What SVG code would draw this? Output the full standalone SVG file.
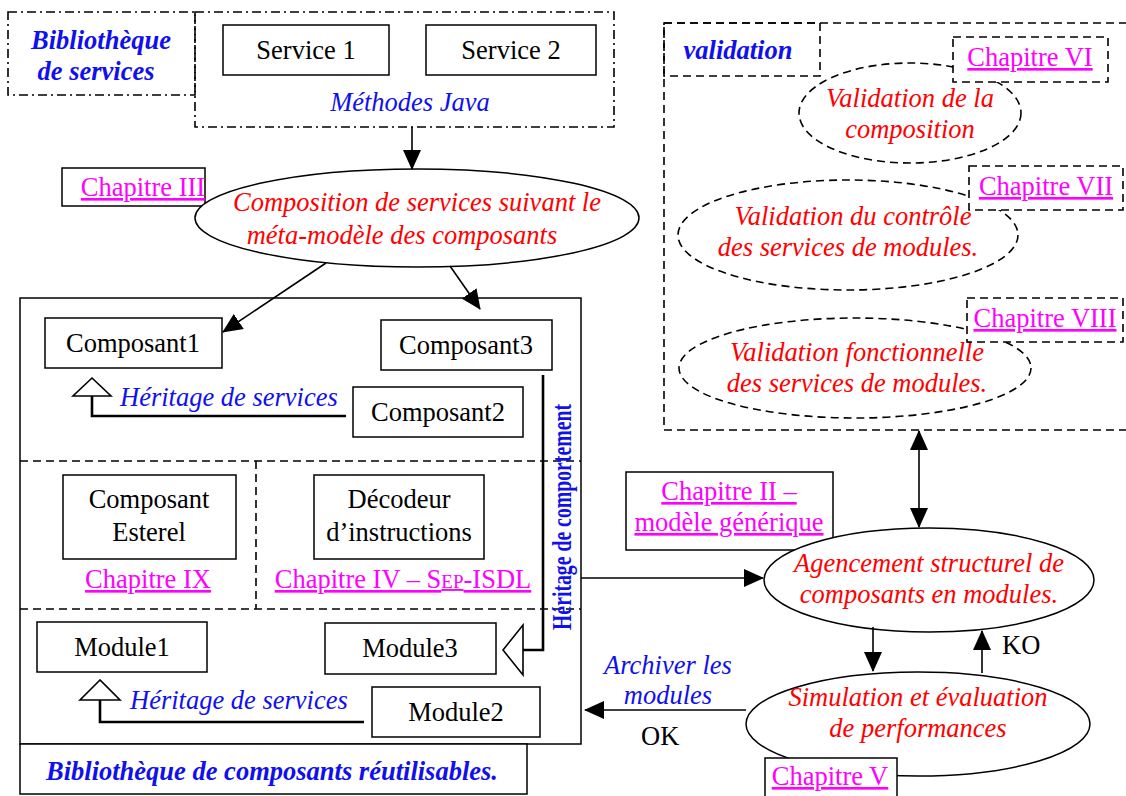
<svg xmlns="http://www.w3.org/2000/svg" width="1126" height="796" viewBox="0 0 1126 796">
<defs>
<style>
text{font-family:"Liberation Serif","Times New Roman",serif;font-size:26.5px;fill:#000}
.c{text-anchor:middle}
.it{font-style:italic}
.blue{fill:#1010ee}
.red{fill:#ff0000}
.bb{font-weight:bold;font-style:italic;fill:#1010ee}
.ch{fill:#ff00ff;text-decoration:underline}
.box{fill:#fff;stroke:#000;stroke-width:1.5}
.dd{fill:none;stroke:#000;stroke-width:1.6;stroke-dasharray:9 4 2 4}
.dash{fill:none;stroke:#000;stroke-width:1.6;stroke-dasharray:8 5}
.dashw{fill:#fff;stroke:#000;stroke-width:1.6;stroke-dasharray:8 5}
.ln{fill:none;stroke:#000;stroke-width:1.6}
.thick{fill:none;stroke:#000;stroke-width:2.6}
.tri{fill:#fff;stroke:#000;stroke-width:1.6}
</style>
<marker id="ah" viewBox="0 0 20 18" refX="19" refY="9" markerWidth="20" markerHeight="18" markerUnits="userSpaceOnUse" orient="auto-start-reverse"><path d="M0,0 L20,9 L0,18 z" fill="#000"/></marker>
</defs>

<g id="lib-services-label">
<rect class="dd" x="8" y="12" width="187" height="83"/>
<text class="bb c" x="101" y="49">Bibliothèque</text>
<text class="bb c" x="96" y="80">de services</text>
</g>
<g id="methodes-java">
<rect class="dd" x="195" y="12" width="419" height="115"/>
<text class="it blue c" x="410" y="111">Méthodes Java</text>
</g>
<g id="service1"><rect class="box" x="223" y="25" width="166" height="50"/><text class="c" x="306" y="59">Service 1</text></g>
<g id="service2"><rect class="box" x="426" y="25" width="170" height="50"/><text class="c" x="511" y="59">Service 2</text></g>

<g id="chap3"><rect class="box" x="62" y="168" width="143" height="38"/><text class="ch c" x="143" y="196">Chapitre III</text></g>
<g id="composition">
<ellipse class="box" cx="417" cy="218" rx="222" ry="49"/>
<text class="it red c" x="417" y="211">Composition de services suivant le</text>
<text class="it red c" x="402" y="244">méta-modèle des composants</text>
</g>

<g id="lib-composants">
<rect class="box" x="20" y="298" width="561" height="446"/>
<line class="dash" x1="20" y1="461" x2="581" y2="461"/>
<line class="dash" x1="20" y1="609" x2="581" y2="609"/>
<line class="dash" x1="256" y1="461" x2="256" y2="609"/>
</g>
<g id="lib-composants-label"><rect class="box" x="20" y="744" width="507" height="50"/><text class="bb c" x="272" y="780">Bibliothèque de composants réutilisables.</text></g>

<g id="composant1"><rect class="box" x="45" y="318" width="177" height="50"/><text class="c" x="133" y="352">Composant1</text></g>
<g id="composant3"><rect class="box" x="381" y="320" width="171" height="50"/><text class="c" x="466" y="354">Composant3</text></g>
<g id="composant2"><rect class="box" x="353" y="387" width="170" height="50"/><text class="c" x="438" y="421">Composant2</text></g>
<g id="esterel"><rect class="box" x="63" y="475" width="173" height="84"/><text class="c" x="149" y="508">Composant</text><text class="c" x="149" y="541">Esterel</text></g>
<g id="chap9"><text class="ch c" x="148" y="588">Chapitre IX</text></g>
<g id="decodeur"><rect class="box" x="314" y="475" width="170" height="84"/><text class="c" x="399" y="508">Décodeur</text><text class="c" x="399" y="541">d’instructions</text></g>
<g id="chap4"><text class="ch c" x="403" y="588">Chapitre IV – S<tspan style="font-size:19px">EP</tspan>-ISDL</text></g>
<g id="module1"><rect class="box" x="37" y="622" width="170" height="50"/><text class="c" x="122" y="656">Module1</text></g>
<g id="module3"><rect class="box" x="325" y="623" width="171" height="51"/><text class="c" x="410" y="657">Module3</text></g>
<g id="module2"><rect class="box" x="372" y="687" width="168" height="50"/><text class="c" x="456" y="721">Module2</text></g>

<g id="validation">
<rect class="dash" x="664" y="23" width="470" height="407"/>
<rect class="dash" x="664" y="23" width="156" height="53"/>
<text class="bb c" x="738" y="59">validation</text>
</g>
<g id="val-composition">
<ellipse class="dash" cx="910" cy="113" rx="111" ry="50"/>
<text class="it red c" x="910" y="107">Validation de la</text>
<text class="it red c" x="910" y="138">composition</text>
</g>
<g id="chap6"><rect class="dashw" x="953" y="37" width="155" height="45"/><text class="ch c" x="1030" y="66">Chapitre VI</text></g>
<g id="val-controle">
<ellipse class="dash" cx="848" cy="235" rx="170" ry="55"/>
<text class="it red c" x="853" y="225">Validation du contrôle</text>
<text class="it red c" x="848" y="256">des services de modules.</text>
</g>
<g id="chap7"><rect class="dashw" x="969" y="166" width="154" height="44"/><text class="ch c" x="1046" y="195">Chapitre VII</text></g>
<g id="val-fonc">
<ellipse class="dash" cx="855" cy="368" rx="176" ry="50"/>
<text class="it red c" x="857" y="361">Validation fonctionnelle</text>
<text class="it red c" x="857" y="392">des services de modules.</text>
</g>
<g id="chap8"><rect class="dashw" x="967" y="298" width="156" height="44"/><text class="ch c" x="1045" y="327">Chapitre VIII</text></g>

<g id="chap2"><rect class="box" x="626" y="472" width="207" height="78"/><text class="ch c" x="729" y="500">Chapitre II –</text><text class="ch c" x="729" y="531">modèle générique</text></g>
<g id="agencement">
<ellipse class="box" cx="929" cy="580" rx="165" ry="52"/>
<text class="it red c" x="929" y="572">Agencement structurel de</text>
<text class="it red c" x="929" y="603">composants en modules.</text>
</g>
<g id="simulation">
<ellipse class="box" cx="918" cy="724" rx="172" ry="52"/>
<text class="it red c" x="918" y="706">Simulation et évaluation</text>
<text class="it red c" x="918" y="737">de performances</text>
</g>
<g id="chap5"><rect class="box" x="765" y="758" width="132" height="46"/><text class="ch c" x="830" y="785">Chapitre V</text></g>

<g id="connectors">
<line class="ln" x1="412" y1="127" x2="412" y2="169" marker-end="url(#ah)"/>
<line class="ln" x1="326" y1="263" x2="223" y2="332" marker-end="url(#ah)"/>
<line class="ln" x1="450" y1="266" x2="480" y2="309" marker-end="url(#ah)"/>
<polyline class="thick" points="346,416 92,416 92,396"/>
<polygon class="tri" points="92,378 73,396 111,396"/>
<text class="it blue" x="120" y="406">Héritage de services</text>
<polyline class="thick" points="364,722 100,722 100,700"/>
<polygon class="tri" points="100,680 80,700 120,700"/>
<text class="it blue" x="130" y="709">Héritage de services</text>
<polyline class="thick" points="543,375 543,650 523,650"/>
<polygon class="tri" points="503,650 523,625 523,675"/>
<text transform="translate(571,517) rotate(-90)" class="c" style="font-weight:bold;font-size:27px;fill:#1010ee" textLength="226" lengthAdjust="spacingAndGlyphs">Héritage de comportement</text>
<line class="ln" x1="581" y1="578" x2="763" y2="578" marker-end="url(#ah)"/>
<line class="ln" x1="919" y1="431" x2="919" y2="527" marker-start="url(#ah)" marker-end="url(#ah)"/>
<line class="ln" x1="873" y1="627" x2="873" y2="671" marker-end="url(#ah)"/>
<line class="ln" x1="982" y1="673" x2="982" y2="631" marker-end="url(#ah)"/>
<text x="1002" y="654">KO</text>
<line class="ln" x1="746" y1="710" x2="585" y2="710" marker-end="url(#ah)"/>
<text class="it blue c" x="668" y="674">Archiver les</text>
<text class="it blue c" x="668" y="704">modules</text>
<text x="641" y="745">OK</text>
</g>
</svg>
